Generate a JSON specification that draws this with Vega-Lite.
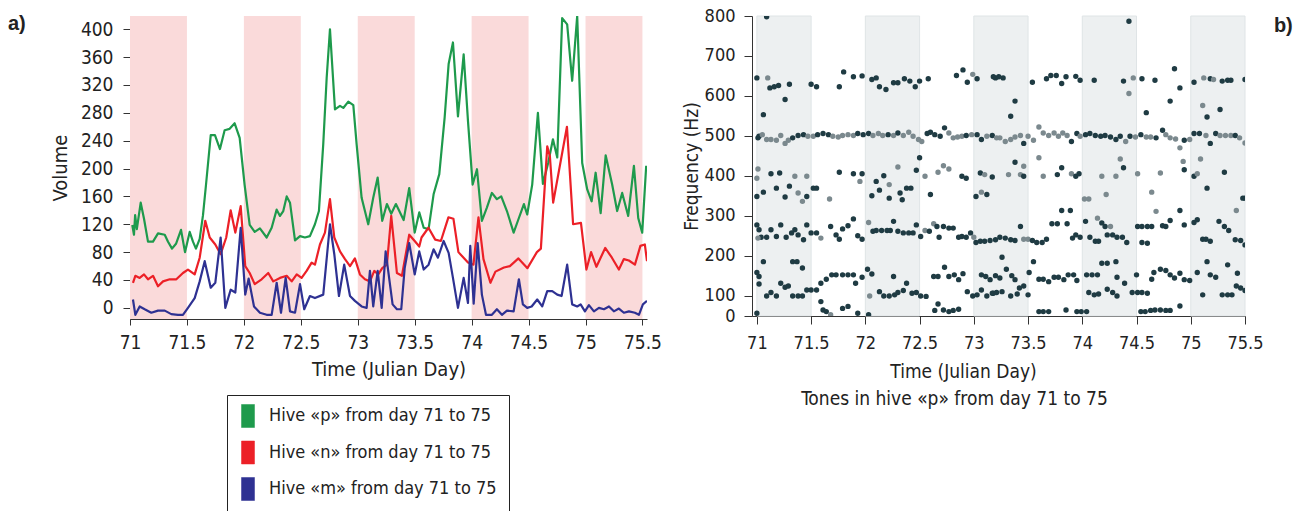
{
"$schema": "https://vega.github.io/schema/vega-lite/v6.json",
"padding": {"left": 8, "top": 7, "right": 5, "bottom": 0},
"background": "white",
"spacing": 105,
"bounds": "flush",
"config": {
  "view": {"stroke": null},
  "font": "Liberation Sans Narrow, DejaVu Sans Condensed, Roboto Condensed, sans-serif",
  "axis": {"grid": false, "domainColor": "#333", "tickColor": "#333", "labelColor": "#222", "titleColor": "#222", "titleFontWeight": "normal", "labelFont": "Liberation Sans Narrow, DejaVu Sans Condensed, sans-serif", "titleFont": "Liberation Sans Narrow, DejaVu Sans Condensed, sans-serif", "labelFlush": false, "domainWidth": 1, "tickWidth": 1}
},
"title": {"text": "b)", "orient": "right", "anchor": "start", "angle": 0, "align": "left", "baseline": "top", "offset": -8, "dy": 9, "fontSize": 20, "fontWeight": "bold", "font": "Liberation Sans, Arial, sans-serif", "color": "#222"},
"resolve": {"scale": {"x": "independent", "y": "independent"}},
"datasets": {
  "bands": [{"start": 71, "end": 71.5}, {"start": 72, "end": 72.5}, {"start": 73, "end": 73.5}, {"start": 74, "end": 74.5}, {"start": 75, "end": 75.5}]
},
"hconcat": [
 {
  "width": 517, "height": 303,
  "title": {"text": "a)", "orient": "top", "anchor": "start", "frame": "group", "dx": -122, "dy": 15, "offset": -3, "baseline": "top", "align": "left", "fontSize": 20, "fontWeight": "bold", "font": "Liberation Sans, Arial, sans-serif", "color": "#222"},
  "layer": [
   {
    "data": {"name": "bands"},
    "mark": {"type": "rect", "fill": "#fadada"},
    "encoding": {
      "x": {"field": "start", "type": "quantitative", "scale": {"domain": [71, 75.54]}, "axis": {"values": [71, 71.5, 72, 72.5, 73, 73.5, 74, 74.5, 75, 75.5], "format": "~g", "title": "Time (Julian Day)", "labelFontSize": 19, "titleFontSize": 20, "tickSize": 6, "labelPadding": 8, "titlePadding": 7}},
      "x2": {"field": "end"}
    }
   },
   {
    "data": {"values": [
{"day":71.02,"vol":119,"hive":"Hive «p» from day 71 to 75"},{"day":71.035,"vol":105,"hive":"Hive «p» from day 71 to 75"},{"day":71.045,"vol":133,"hive":"Hive «p» from day 71 to 75"},{"day":71.06,"vol":113,"hive":"Hive «p» from day 71 to 75"},{"day":71.094,"vol":151,"hive":"Hive «p» from day 71 to 75"},{"day":71.123,"vol":128,"hive":"Hive «p» from day 71 to 75"},{"day":71.158,"vol":95,"hive":"Hive «p» from day 71 to 75"},{"day":71.202,"vol":95,"hive":"Hive «p» from day 71 to 75"},{"day":71.246,"vol":107,"hive":"Hive «p» from day 71 to 75"},{"day":71.305,"vol":105,"hive":"Hive «p» from day 71 to 75"},{"day":71.334,"vol":95,"hive":"Hive «p» from day 71 to 75"},{"day":71.369,"vol":85,"hive":"Hive «p» from day 71 to 75"},{"day":71.404,"vol":92,"hive":"Hive «p» from day 71 to 75"},{"day":71.448,"vol":112,"hive":"Hive «p» from day 71 to 75"},{"day":71.483,"vol":80,"hive":"Hive «p» from day 71 to 75"},{"day":71.524,"vol":109,"hive":"Hive «p» from day 71 to 75"},{"day":71.553,"vol":95,"hive":"Hive «p» from day 71 to 75"},{"day":71.579,"vol":85,"hive":"Hive «p» from day 71 to 75"},{"day":71.612,"vol":99,"hive":"Hive «p» from day 71 to 75"},{"day":71.641,"vol":133,"hive":"Hive «p» from day 71 to 75"},{"day":71.667,"vol":176,"hive":"Hive «p» from day 71 to 75"},{"day":71.709,"vol":248,"hive":"Hive «p» from day 71 to 75"},{"day":71.746,"vol":248,"hive":"Hive «p» from day 71 to 75"},{"day":71.79,"vol":228,"hive":"Hive «p» from day 71 to 75"},{"day":71.831,"vol":255,"hive":"Hive «p» from day 71 to 75"},{"day":71.875,"vol":257,"hive":"Hive «p» from day 71 to 75"},{"day":71.919,"vol":265,"hive":"Hive «p» from day 71 to 75"},{"day":71.963,"vol":244,"hive":"Hive «p» from day 71 to 75"},{"day":72.007,"vol":176,"hive":"Hive «p» from day 71 to 75"},{"day":72.051,"vol":119,"hive":"Hive «p» from day 71 to 75"},{"day":72.095,"vol":109,"hive":"Hive «p» from day 71 to 75"},{"day":72.141,"vol":114,"hive":"Hive «p» from day 71 to 75"},{"day":72.2,"vol":101,"hive":"Hive «p» from day 71 to 75"},{"day":72.244,"vol":115,"hive":"Hive «p» from day 71 to 75"},{"day":72.288,"vol":141,"hive":"Hive «p» from day 71 to 75"},{"day":72.317,"vol":132,"hive":"Hive «p» from day 71 to 75"},{"day":72.346,"vol":139,"hive":"Hive «p» from day 71 to 75"},{"day":72.376,"vol":160,"hive":"Hive «p» from day 71 to 75"},{"day":72.405,"vol":151,"hive":"Hive «p» from day 71 to 75"},{"day":72.449,"vol":97,"hive":"Hive «p» from day 71 to 75"},{"day":72.493,"vol":103,"hive":"Hive «p» from day 71 to 75"},{"day":72.536,"vol":101,"hive":"Hive «p» from day 71 to 75"},{"day":72.58,"vol":103,"hive":"Hive «p» from day 71 to 75"},{"day":72.624,"vol":120,"hive":"Hive «p» from day 71 to 75"},{"day":72.659,"vol":139,"hive":"Hive «p» from day 71 to 75"},{"day":72.697,"vol":235,"hive":"Hive «p» from day 71 to 75"},{"day":72.727,"vol":330,"hive":"Hive «p» from day 71 to 75"},{"day":72.756,"vol":400,"hive":"Hive «p» from day 71 to 75"},{"day":72.8,"vol":285,"hive":"Hive «p» from day 71 to 75"},{"day":72.844,"vol":290,"hive":"Hive «p» from day 71 to 75"},{"day":72.873,"vol":287,"hive":"Hive «p» from day 71 to 75"},{"day":72.917,"vol":296,"hive":"Hive «p» from day 71 to 75"},{"day":72.961,"vol":291,"hive":"Hive «p» from day 71 to 75"},{"day":72.99,"vol":235,"hive":"Hive «p» from day 71 to 75"},{"day":73.034,"vol":158,"hive":"Hive «p» from day 71 to 75"},{"day":73.092,"vol":120,"hive":"Hive «p» from day 71 to 75"},{"day":73.136,"vol":158,"hive":"Hive «p» from day 71 to 75"},{"day":73.175,"vol":187,"hive":"Hive «p» from day 71 to 75"},{"day":73.215,"vol":125,"hive":"Hive «p» from day 71 to 75"},{"day":73.256,"vol":149,"hive":"Hive «p» from day 71 to 75"},{"day":73.294,"vol":135,"hive":"Hive «p» from day 71 to 75"},{"day":73.335,"vol":149,"hive":"Hive «p» from day 71 to 75"},{"day":73.403,"vol":126,"hive":"Hive «p» from day 71 to 75"},{"day":73.452,"vol":172,"hive":"Hive «p» from day 71 to 75"},{"day":73.5,"vol":108,"hive":"Hive «p» from day 71 to 75"},{"day":73.54,"vol":137,"hive":"Hive «p» from day 71 to 75"},{"day":73.579,"vol":115,"hive":"Hive «p» from day 71 to 75"},{"day":73.622,"vol":113,"hive":"Hive «p» from day 71 to 75"},{"day":73.666,"vol":163,"hive":"Hive «p» from day 71 to 75"},{"day":73.716,"vol":192,"hive":"Hive «p» from day 71 to 75"},{"day":73.763,"vol":273,"hive":"Hive «p» from day 71 to 75"},{"day":73.798,"vol":350,"hive":"Hive «p» from day 71 to 75"},{"day":73.836,"vol":381,"hive":"Hive «p» from day 71 to 75"},{"day":73.88,"vol":275,"hive":"Hive «p» from day 71 to 75"},{"day":73.93,"vol":364,"hive":"Hive «p» from day 71 to 75"},{"day":73.968,"vol":268,"hive":"Hive «p» from day 71 to 75"},{"day":74.009,"vol":177,"hive":"Hive «p» from day 71 to 75"},{"day":74.047,"vol":199,"hive":"Hive «p» from day 71 to 75"},{"day":74.09,"vol":125,"hive":"Hive «p» from day 71 to 75"},{"day":74.134,"vol":144,"hive":"Hive «p» from day 71 to 75"},{"day":74.178,"vol":165,"hive":"Hive «p» from day 71 to 75"},{"day":74.222,"vol":156,"hive":"Hive «p» from day 71 to 75"},{"day":74.26,"vol":160,"hive":"Hive «p» from day 71 to 75"},{"day":74.31,"vol":139,"hive":"Hive «p» from day 71 to 75"},{"day":74.369,"vol":108,"hive":"Hive «p» from day 71 to 75"},{"day":74.415,"vol":129,"hive":"Hive «p» from day 71 to 75"},{"day":74.459,"vol":149,"hive":"Hive «p» from day 71 to 75"},{"day":74.488,"vol":134,"hive":"Hive «p» from day 71 to 75"},{"day":74.532,"vol":177,"hive":"Hive «p» from day 71 to 75"},{"day":74.582,"vol":280,"hive":"Hive «p» from day 71 to 75"},{"day":74.626,"vol":178,"hive":"Hive «p» from day 71 to 75"},{"day":74.672,"vol":208,"hive":"Hive «p» from day 71 to 75"},{"day":74.714,"vol":242,"hive":"Hive «p» from day 71 to 75"},{"day":74.752,"vol":216,"hive":"Hive «p» from day 71 to 75"},{"day":74.795,"vol":416,"hive":"Hive «p» from day 71 to 75"},{"day":74.839,"vol":407,"hive":"Hive «p» from day 71 to 75"},{"day":74.883,"vol":326,"hive":"Hive «p» from day 71 to 75"},{"day":74.927,"vol":419,"hive":"Hive «p» from day 71 to 75"},{"day":74.971,"vol":208,"hive":"Hive «p» from day 71 to 75"},{"day":75.015,"vol":170,"hive":"Hive «p» from day 71 to 75"},{"day":75.054,"vol":153,"hive":"Hive «p» from day 71 to 75"},{"day":75.089,"vol":194,"hive":"Hive «p» from day 71 to 75"},{"day":75.133,"vol":136,"hive":"Hive «p» from day 71 to 75"},{"day":75.177,"vol":219,"hive":"Hive «p» from day 71 to 75"},{"day":75.234,"vol":177,"hive":"Hive «p» from day 71 to 75"},{"day":75.278,"vol":139,"hive":"Hive «p» from day 71 to 75"},{"day":75.322,"vol":165,"hive":"Hive «p» from day 71 to 75"},{"day":75.375,"vol":132,"hive":"Hive «p» from day 71 to 75"},{"day":75.425,"vol":204,"hive":"Hive «p» from day 71 to 75"},{"day":75.463,"vol":129,"hive":"Hive «p» from day 71 to 75"},{"day":75.498,"vol":108,"hive":"Hive «p» from day 71 to 75"},{"day":75.533,"vol":204,"hive":"Hive «p» from day 71 to 75"},
{"day":71.026,"vol":36,"hive":"Hive «n» from day 71 to 75"},{"day":71.047,"vol":46,"hive":"Hive «n» from day 71 to 75"},{"day":71.085,"vol":43,"hive":"Hive «n» from day 71 to 75"},{"day":71.123,"vol":48,"hive":"Hive «n» from day 71 to 75"},{"day":71.158,"vol":41,"hive":"Hive «n» from day 71 to 75"},{"day":71.202,"vol":46,"hive":"Hive «n» from day 71 to 75"},{"day":71.246,"vol":31,"hive":"Hive «n» from day 71 to 75"},{"day":71.29,"vol":38,"hive":"Hive «n» from day 71 to 75"},{"day":71.349,"vol":41,"hive":"Hive «n» from day 71 to 75"},{"day":71.407,"vol":41,"hive":"Hive «n» from day 71 to 75"},{"day":71.465,"vol":50,"hive":"Hive «n» from day 71 to 75"},{"day":71.509,"vol":55,"hive":"Hive «n» from day 71 to 75"},{"day":71.568,"vol":48,"hive":"Hive «n» from day 71 to 75"},{"day":71.612,"vol":72,"hive":"Hive «n» from day 71 to 75"},{"day":71.661,"vol":125,"hive":"Hive «n» from day 71 to 75"},{"day":71.7,"vol":101,"hive":"Hive «n» from day 71 to 75"},{"day":71.749,"vol":91,"hive":"Hive «n» from day 71 to 75"},{"day":71.796,"vol":77,"hive":"Hive «n» from day 71 to 75"},{"day":71.845,"vol":101,"hive":"Hive «n» from day 71 to 75"},{"day":71.884,"vol":140,"hive":"Hive «n» from day 71 to 75"},{"day":71.925,"vol":108,"hive":"Hive «n» from day 71 to 75"},{"day":71.972,"vol":146,"hive":"Hive «n» from day 71 to 75"},{"day":72.012,"vol":60,"hive":"Hive «n» from day 71 to 75"},{"day":72.051,"vol":50,"hive":"Hive «n» from day 71 to 75"},{"day":72.095,"vol":34,"hive":"Hive «n» from day 71 to 75"},{"day":72.156,"vol":41,"hive":"Hive «n» from day 71 to 75"},{"day":72.214,"vol":50,"hive":"Hive «n» from day 71 to 75"},{"day":72.258,"vol":38,"hive":"Hive «n» from day 71 to 75"},{"day":72.317,"vol":43,"hive":"Hive «n» from day 71 to 75"},{"day":72.376,"vol":46,"hive":"Hive «n» from day 71 to 75"},{"day":72.42,"vol":38,"hive":"Hive «n» from day 71 to 75"},{"day":72.464,"vol":48,"hive":"Hive «n» from day 71 to 75"},{"day":72.507,"vol":43,"hive":"Hive «n» from day 71 to 75"},{"day":72.551,"vol":53,"hive":"Hive «n» from day 71 to 75"},{"day":72.595,"vol":65,"hive":"Hive «n» from day 71 to 75"},{"day":72.624,"vol":62,"hive":"Hive «n» from day 71 to 75"},{"day":72.668,"vol":91,"hive":"Hive «n» from day 71 to 75"},{"day":72.712,"vol":108,"hive":"Hive «n» from day 71 to 75"},{"day":72.756,"vol":156,"hive":"Hive «n» from day 71 to 75"},{"day":72.794,"vol":101,"hive":"Hive «n» from day 71 to 75"},{"day":72.844,"vol":81,"hive":"Hive «n» from day 71 to 75"},{"day":72.888,"vol":70,"hive":"Hive «n» from day 71 to 75"},{"day":72.932,"vol":60,"hive":"Hive «n» from day 71 to 75"},{"day":72.975,"vol":71,"hive":"Hive «n» from day 71 to 75"},{"day":73.019,"vol":48,"hive":"Hive «n» from day 71 to 75"},{"day":73.063,"vol":41,"hive":"Hive «n» from day 71 to 75"},{"day":73.107,"vol":38,"hive":"Hive «n» from day 71 to 75"},{"day":73.145,"vol":53,"hive":"Hive «n» from day 71 to 75"},{"day":73.18,"vol":48,"hive":"Hive «n» from day 71 to 75"},{"day":73.215,"vol":57,"hive":"Hive «n» from day 71 to 75"},{"day":73.256,"vol":62,"hive":"Hive «n» from day 71 to 75"},{"day":73.294,"vol":132,"hive":"Hive «n» from day 71 to 75"},{"day":73.344,"vol":50,"hive":"Hive «n» from day 71 to 75"},{"day":73.388,"vol":46,"hive":"Hive «n» from day 71 to 75"},{"day":73.452,"vol":105,"hive":"Hive «n» from day 71 to 75"},{"day":73.5,"vol":96,"hive":"Hive «n» from day 71 to 75"},{"day":73.54,"vol":88,"hive":"Hive «n» from day 71 to 75"},{"day":73.56,"vol":101,"hive":"Hive «n» from day 71 to 75"},{"day":73.621,"vol":115,"hive":"Hive «n» from day 71 to 75"},{"day":73.68,"vol":98,"hive":"Hive «n» from day 71 to 75"},{"day":73.73,"vol":96,"hive":"Hive «n» from day 71 to 75"},{"day":73.796,"vol":130,"hive":"Hive «n» from day 71 to 75"},{"day":73.84,"vol":128,"hive":"Hive «n» from day 71 to 75"},{"day":73.884,"vol":80,"hive":"Hive «n» from day 71 to 75"},{"day":73.968,"vol":65,"hive":"Hive «n» from day 71 to 75"},{"day":74.016,"vol":62,"hive":"Hive «n» from day 71 to 75"},{"day":74.06,"vol":130,"hive":"Hive «n» from day 71 to 75"},{"day":74.104,"vol":70,"hive":"Hive «n» from day 71 to 75"},{"day":74.165,"vol":36,"hive":"Hive «n» from day 71 to 75"},{"day":74.209,"vol":52,"hive":"Hive «n» from day 71 to 75"},{"day":74.284,"vol":58,"hive":"Hive «n» from day 71 to 75"},{"day":74.336,"vol":60,"hive":"Hive «n» from day 71 to 75"},{"day":74.411,"vol":71,"hive":"Hive «n» from day 71 to 75"},{"day":74.49,"vol":57,"hive":"Hive «n» from day 71 to 75"},{"day":74.573,"vol":80,"hive":"Hive «n» from day 71 to 75"},{"day":74.608,"vol":85,"hive":"Hive «n» from day 71 to 75"},{"day":74.664,"vol":232,"hive":"Hive «n» from day 71 to 75"},{"day":74.687,"vol":218,"hive":"Hive «n» from day 71 to 75"},{"day":74.716,"vol":151,"hive":"Hive «n» from day 71 to 75"},{"day":74.837,"vol":260,"hive":"Hive «n» from day 71 to 75"},{"day":74.891,"vol":120,"hive":"Hive «n» from day 71 to 75"},{"day":74.96,"vol":122,"hive":"Hive «n» from day 71 to 75"},{"day":75.008,"vol":55,"hive":"Hive «n» from day 71 to 75"},{"day":75.049,"vol":80,"hive":"Hive «n» from day 71 to 75"},{"day":75.096,"vol":59,"hive":"Hive «n» from day 71 to 75"},{"day":75.173,"vol":86,"hive":"Hive «n» from day 71 to 75"},{"day":75.232,"vol":72,"hive":"Hive «n» from day 71 to 75"},{"day":75.293,"vol":55,"hive":"Hive «n» from day 71 to 75"},{"day":75.337,"vol":70,"hive":"Hive «n» from day 71 to 75"},{"day":75.381,"vol":68,"hive":"Hive «n» from day 71 to 75"},{"day":75.434,"vol":62,"hive":"Hive «n» from day 71 to 75"},{"day":75.482,"vol":89,"hive":"Hive «n» from day 71 to 75"},{"day":75.521,"vol":91,"hive":"Hive «n» from day 71 to 75"},{"day":75.54,"vol":67,"hive":"Hive «n» from day 71 to 75"},
{"day":71.026,"vol":12,"hive":"Hive «m» from day 71 to 75"},{"day":71.047,"vol":-10,"hive":"Hive «m» from day 71 to 75"},{"day":71.085,"vol":2,"hive":"Hive «m» from day 71 to 75"},{"day":71.129,"vol":-2,"hive":"Hive «m» from day 71 to 75"},{"day":71.187,"vol":-7,"hive":"Hive «m» from day 71 to 75"},{"day":71.246,"vol":-4,"hive":"Hive «m» from day 71 to 75"},{"day":71.305,"vol":-4,"hive":"Hive «m» from day 71 to 75"},{"day":71.363,"vol":-9,"hive":"Hive «m» from day 71 to 75"},{"day":71.421,"vol":-10,"hive":"Hive «m» from day 71 to 75"},{"day":71.465,"vol":-10,"hive":"Hive «m» from day 71 to 75"},{"day":71.509,"vol":0,"hive":"Hive «m» from day 71 to 75"},{"day":71.568,"vol":14,"hive":"Hive «m» from day 71 to 75"},{"day":71.612,"vol":38,"hive":"Hive «m» from day 71 to 75"},{"day":71.656,"vol":67,"hive":"Hive «m» from day 71 to 75"},{"day":71.709,"vol":29,"hive":"Hive «m» from day 71 to 75"},{"day":71.749,"vol":36,"hive":"Hive «m» from day 71 to 75"},{"day":71.796,"vol":101,"hive":"Hive «m» from day 71 to 75"},{"day":71.837,"vol":0,"hive":"Hive «m» from day 71 to 75"},{"day":71.884,"vol":26,"hive":"Hive «m» from day 71 to 75"},{"day":71.925,"vol":22,"hive":"Hive «m» from day 71 to 75"},{"day":71.972,"vol":115,"hive":"Hive «m» from day 71 to 75"},{"day":72.012,"vol":19,"hive":"Hive «m» from day 71 to 75"},{"day":72.042,"vol":42,"hive":"Hive «m» from day 71 to 75"},{"day":72.089,"vol":2,"hive":"Hive «m» from day 71 to 75"},{"day":72.141,"vol":-7,"hive":"Hive «m» from day 71 to 75"},{"day":72.2,"vol":-10,"hive":"Hive «m» from day 71 to 75"},{"day":72.244,"vol":-10,"hive":"Hive «m» from day 71 to 75"},{"day":72.288,"vol":36,"hive":"Hive «m» from day 71 to 75"},{"day":72.326,"vol":-7,"hive":"Hive «m» from day 71 to 75"},{"day":72.367,"vol":43,"hive":"Hive «m» from day 71 to 75"},{"day":72.405,"vol":-5,"hive":"Hive «m» from day 71 to 75"},{"day":72.449,"vol":-7,"hive":"Hive «m» from day 71 to 75"},{"day":72.493,"vol":34,"hive":"Hive «m» from day 71 to 75"},{"day":72.53,"vol":-2,"hive":"Hive «m» from day 71 to 75"},{"day":72.58,"vol":17,"hive":"Hive «m» from day 71 to 75"},{"day":72.624,"vol":14,"hive":"Hive «m» from day 71 to 75"},{"day":72.697,"vol":19,"hive":"Hive «m» from day 71 to 75"},{"day":72.756,"vol":120,"hive":"Hive «m» from day 71 to 75"},{"day":72.794,"vol":77,"hive":"Hive «m» from day 71 to 75"},{"day":72.835,"vol":17,"hive":"Hive «m» from day 71 to 75"},{"day":72.881,"vol":62,"hive":"Hive «m» from day 71 to 75"},{"day":72.932,"vol":17,"hive":"Hive «m» from day 71 to 75"},{"day":72.975,"vol":10,"hive":"Hive «m» from day 71 to 75"},{"day":73.034,"vol":2,"hive":"Hive «m» from day 71 to 75"},{"day":73.078,"vol":0,"hive":"Hive «m» from day 71 to 75"},{"day":73.107,"vol":53,"hive":"Hive «m» from day 71 to 75"},{"day":73.136,"vol":2,"hive":"Hive «m» from day 71 to 75"},{"day":73.175,"vol":53,"hive":"Hive «m» from day 71 to 75"},{"day":73.21,"vol":0,"hive":"Hive «m» from day 71 to 75"},{"day":73.245,"vol":81,"hive":"Hive «m» from day 71 to 75"},{"day":73.306,"vol":5,"hive":"Hive «m» from day 71 to 75"},{"day":73.344,"vol":-2,"hive":"Hive «m» from day 71 to 75"},{"day":73.382,"vol":-2,"hive":"Hive «m» from day 71 to 75"},{"day":73.412,"vol":57,"hive":"Hive «m» from day 71 to 75"},{"day":73.452,"vol":93,"hive":"Hive «m» from day 71 to 75"},{"day":73.5,"vol":48,"hive":"Hive «m» from day 71 to 75"},{"day":73.54,"vol":81,"hive":"Hive «m» from day 71 to 75"},{"day":73.579,"vol":55,"hive":"Hive «m» from day 71 to 75"},{"day":73.622,"vol":62,"hive":"Hive «m» from day 71 to 75"},{"day":73.666,"vol":84,"hive":"Hive «m» from day 71 to 75"},{"day":73.704,"vol":72,"hive":"Hive «m» from day 71 to 75"},{"day":73.754,"vol":96,"hive":"Hive «m» from day 71 to 75"},{"day":73.798,"vol":79,"hive":"Hive «m» from day 71 to 75"},{"day":73.836,"vol":43,"hive":"Hive «m» from day 71 to 75"},{"day":73.88,"vol":0,"hive":"Hive «m» from day 71 to 75"},{"day":73.93,"vol":43,"hive":"Hive «m» from day 71 to 75"},{"day":73.968,"vol":7,"hive":"Hive «m» from day 71 to 75"},{"day":73.988,"vol":89,"hive":"Hive «m» from day 71 to 75"},{"day":74.018,"vol":6,"hive":"Hive «m» from day 71 to 75"},{"day":74.053,"vol":93,"hive":"Hive «m» from day 71 to 75"},{"day":74.09,"vol":19,"hive":"Hive «m» from day 71 to 75"},{"day":74.126,"vol":-10,"hive":"Hive «m» from day 71 to 75"},{"day":74.178,"vol":-10,"hive":"Hive «m» from day 71 to 75"},{"day":74.222,"vol":-2,"hive":"Hive «m» from day 71 to 75"},{"day":74.266,"vol":-10,"hive":"Hive «m» from day 71 to 75"},{"day":74.31,"vol":-4,"hive":"Hive «m» from day 71 to 75"},{"day":74.369,"vol":-5,"hive":"Hive «m» from day 71 to 75"},{"day":74.415,"vol":41,"hive":"Hive «m» from day 71 to 75"},{"day":74.45,"vol":5,"hive":"Hive «m» from day 71 to 75"},{"day":74.488,"vol":0,"hive":"Hive «m» from day 71 to 75"},{"day":74.527,"vol":2,"hive":"Hive «m» from day 71 to 75"},{"day":74.576,"vol":12,"hive":"Hive «m» from day 71 to 75"},{"day":74.62,"vol":2,"hive":"Hive «m» from day 71 to 75"},{"day":74.664,"vol":24,"hive":"Hive «m» from day 71 to 75"},{"day":74.708,"vol":24,"hive":"Hive «m» from day 71 to 75"},{"day":74.752,"vol":19,"hive":"Hive «m» from day 71 to 75"},{"day":74.79,"vol":17,"hive":"Hive «m» from day 71 to 75"},{"day":74.839,"vol":62,"hive":"Hive «m» from day 71 to 75"},{"day":74.883,"vol":5,"hive":"Hive «m» from day 71 to 75"},{"day":74.927,"vol":2,"hive":"Hive «m» from day 71 to 75"},{"day":74.957,"vol":5,"hive":"Hive «m» from day 71 to 75"},{"day":74.995,"vol":-5,"hive":"Hive «m» from day 71 to 75"},{"day":75.03,"vol":4,"hive":"Hive «m» from day 71 to 75"},{"day":75.074,"vol":-5,"hive":"Hive «m» from day 71 to 75"},{"day":75.118,"vol":0,"hive":"Hive «m» from day 71 to 75"},{"day":75.162,"vol":-2,"hive":"Hive «m» from day 71 to 75"},{"day":75.206,"vol":2,"hive":"Hive «m» from day 71 to 75"},{"day":75.249,"vol":-5,"hive":"Hive «m» from day 71 to 75"},{"day":75.293,"vol":-1,"hive":"Hive «m» from day 71 to 75"},{"day":75.337,"vol":-7,"hive":"Hive «m» from day 71 to 75"},{"day":75.381,"vol":-5,"hive":"Hive «m» from day 71 to 75"},{"day":75.434,"vol":-7,"hive":"Hive «m» from day 71 to 75"},{"day":75.469,"vol":-10,"hive":"Hive «m» from day 71 to 75"},{"day":75.504,"vol":5,"hive":"Hive «m» from day 71 to 75"},{"day":75.54,"vol":10,"hive":"Hive «m» from day 71 to 75"}
    ]},
    "mark": {"type": "line", "strokeWidth": 2.2, "clip": true, "strokeJoin": "round"},
    "encoding": {
      "x": {"field": "day", "type": "quantitative", "scale": {"domain": [71, 75.54]}, "axis": {"values": [71, 71.5, 72, 72.5, 73, 73.5, 74, 74.5, 75, 75.5], "format": "~g", "title": "Time (Julian Day)", "labelFontSize": 19, "titleFontSize": 20, "tickSize": 6, "labelPadding": 8, "titlePadding": 7}},
      "y": {"field": "vol", "type": "quantitative", "scale": {"domain": [-16, 419], "nice": false, "zero": false}, "axis": {"values": [0, 40, 80, 120, 160, 200, 240, 280, 320, 360, 400], "title": "Volume", "labelFontSize": 19, "titleFontSize": 20, "tickSize": 7, "labelPadding": 10, "titlePadding": 10}},
      "color": {"field": "hive", "type": "nominal", "sort": null,
        "scale": {"domain": ["Hive «p» from day 71 to 75", "Hive «n» from day 71 to 75", "Hive «m» from day 71 to 75"], "range": ["#1e9a4c", "#ec2027", "#2e3192"]},
        "legend": {"title": null, "orient": "none", "legendX": 97, "legendY": 379, "padding": 12, "strokeColor": "#222", "fillColor": "#ffffff", "symbolType": "M-1,-1.77H1V1.77H-1Z", "symbolSize": 169, "rowPadding": 10.5, "labelOffset": 12, "labelFontSize": 18, "labelColor": "#222", "labelLimit": 400, "labelExpr": "datum.label + '\u00a0\u00a0\u00a0\u00a0\u00a0\u00a0\u00a0'",
          "encode": {"symbols": {"update": {"fill": {"scale": "color", "field": "value"}, "fillOpacity": {"value": 1}, "stroke": {"scale": "color", "field": "value"}, "strokeWidth": {"value": 0.5}}}}}
      }
    }
   }
  ]
 },
 {
  "width": 493, "height": 300,
  "title": {"text": "Tones in hive «p» from day 71 to 75", "orient": "bottom", "anchor": "middle", "dx": -44, "offset": 9, "fontSize": 19, "fontWeight": "normal", "color": "#222", "font": "Liberation Sans Narrow, DejaVu Sans Condensed, sans-serif"},
  "layer": [
   {
    "data": {"name": "bands"},
    "mark": {"type": "rect", "fill": "#edf0f1", "stroke": "#dfe4e6", "strokeWidth": 1},
    "encoding": {
      "x": {"field": "start", "type": "quantitative", "scale": {"domain": [70.955, 75.5]}, "axis": {"values": [71, 71.5, 72, 72.5, 73, 73.5, 74, 74.5, 75, 75.5], "format": "~g", "title": "Time (Julian Day)", "titleX": 211, "labelFontSize": 18, "titleFontSize": 19, "tickSize": 8, "labelPadding": 10, "titlePadding": 10}},
      "x2": {"field": "end"}
    }
   },
   {
    "data": {"values": [
{"day":71.09,"hz":798,"c":"d"},{"day":71.0,"hz":645,"c":"d"},{"day":71.1,"hz":645,"c":"g"},{"day":71.12,"hz":620,"c":"d"},{"day":71.16,"hz":623,"c":"d"},{"day":71.2,"hz":626,"c":"d"},{"day":71.3,"hz":629,"c":"d"},{"day":71.26,"hz":591,"c":"d"},{"day":71.06,"hz":553,"c":"d"},{"day":71.5,"hz":629,"c":"d"},{"day":71.55,"hz":623,"c":"d"},{"day":71.76,"hz":623,"c":"d"},{"day":71.8,"hz":660,"c":"d"},{"day":71.89,"hz":648,"c":"d"},{"day":71.97,"hz":650,"c":"d"},{"day":72.06,"hz":641,"c":"d"},{"day":72.1,"hz":645,"c":"d"},{"day":72.13,"hz":623,"c":"d"},{"day":72.19,"hz":616,"c":"d"},{"day":72.26,"hz":633,"c":"d"},{"day":72.3,"hz":633,"c":"d"},{"day":72.36,"hz":643,"c":"d"},{"day":72.41,"hz":637,"c":"d"},{"day":72.46,"hz":623,"c":"d"},{"day":72.5,"hz":637,"c":"d"},{"day":72.58,"hz":643,"c":"d"},{"day":72.84,"hz":651,"c":"d"},{"day":72.9,"hz":665,"c":"d"},{"day":72.94,"hz":634,"c":"d"},{"day":72.99,"hz":654,"c":"g"},{"day":73.03,"hz":643,"c":"d"},{"day":73.2,"hz":645,"c":"d"},
{"day":71.01,"hz":495,"c":"d"},{"day":71.02,"hz":499,"c":"d"},{"day":71.05,"hz":503,"c":"g"},{"day":71.09,"hz":491,"c":"g"},{"day":71.13,"hz":491,"c":"g"},{"day":71.18,"hz":489,"c":"g"},{"day":71.22,"hz":501,"c":"g"},{"day":71.26,"hz":481,"c":"g"},{"day":71.29,"hz":489,"c":"g"},{"day":71.33,"hz":495,"c":"d"},{"day":71.38,"hz":501,"c":"d"},{"day":71.43,"hz":503,"c":"d"},{"day":71.47,"hz":499,"c":"g"},{"day":71.52,"hz":499,"c":"g"},{"day":71.56,"hz":503,"c":"d"},{"day":71.61,"hz":506,"c":"d"},{"day":71.66,"hz":503,"c":"d"},{"day":71.7,"hz":499,"c":"g"},{"day":71.75,"hz":497,"c":"g"},{"day":71.79,"hz":501,"c":"g"},{"day":71.84,"hz":503,"c":"g"},{"day":71.89,"hz":501,"c":"g"},{"day":71.93,"hz":506,"c":"d"},{"day":71.98,"hz":503,"c":"d"},{"day":72.03,"hz":506,"c":"d"},{"day":72.07,"hz":501,"c":"g"},{"day":72.12,"hz":506,"c":"g"},{"day":72.16,"hz":501,"c":"g"},{"day":72.21,"hz":503,"c":"d"},{"day":72.26,"hz":501,"c":"g"},{"day":72.3,"hz":507,"c":"d"},{"day":72.35,"hz":501,"c":"g"},{"day":72.4,"hz":509,"c":"g"},{"day":72.44,"hz":499,"c":"g"},{"day":72.49,"hz":491,"c":"g"},{"day":72.52,"hz":486,"c":"g"},{"day":72.57,"hz":506,"c":"d"},{"day":72.6,"hz":509,"c":"d"},{"day":72.64,"hz":503,"c":"d"},{"day":72.69,"hz":499,"c":"d"},{"day":72.73,"hz":520,"c":"d"},{"day":72.77,"hz":507,"c":"g"},{"day":72.81,"hz":495,"c":"g"},{"day":72.85,"hz":497,"c":"g"},{"day":72.89,"hz":499,"c":"g"},{"day":72.93,"hz":501,"c":"d"},{"day":72.98,"hz":503,"c":"g"},{"day":73.03,"hz":503,"c":"d"},{"day":73.07,"hz":491,"c":"d"},{"day":73.12,"hz":499,"c":"g"},{"day":73.17,"hz":501,"c":"d"},{"day":73.21,"hz":495,"c":"g"},
{"day":73.24,"hz":495,"c":"g"},{"day":73.29,"hz":486,"c":"g"},{"day":73.34,"hz":491,"c":"g"},{"day":73.38,"hz":497,"c":"g"},{"day":73.43,"hz":501,"c":"g"},{"day":73.46,"hz":481,"c":"d"},{"day":73.5,"hz":499,"c":"g"},{"day":73.55,"hz":489,"c":"g"},{"day":73.6,"hz":522,"c":"g"},{"day":73.64,"hz":507,"c":"g"},{"day":73.69,"hz":501,"c":"g"},{"day":73.74,"hz":507,"c":"g"},{"day":73.78,"hz":499,"c":"g"},{"day":73.82,"hz":507,"c":"g"},{"day":73.86,"hz":501,"c":"g"},{"day":73.9,"hz":486,"c":"d"},{"day":73.95,"hz":506,"c":"d"},{"day":73.98,"hz":499,"c":"g"},{"day":74.03,"hz":503,"c":"d"},{"day":74.07,"hz":506,"c":"d"},{"day":74.12,"hz":501,"c":"d"},{"day":74.17,"hz":499,"c":"d"},{"day":74.21,"hz":501,"c":"d"},{"day":74.26,"hz":497,"c":"d"},{"day":74.31,"hz":491,"c":"d"},{"day":74.35,"hz":499,"c":"d"},{"day":74.4,"hz":486,"c":"g"},{"day":74.44,"hz":499,"c":"d"},{"day":74.49,"hz":497,"c":"g"},{"day":74.54,"hz":503,"c":"d"},{"day":74.59,"hz":497,"c":"g"},{"day":74.63,"hz":497,"c":"g"},{"day":74.68,"hz":495,"c":"d"},{"day":74.74,"hz":514,"c":"d"},{"day":74.77,"hz":503,"c":"g"},{"day":74.81,"hz":495,"c":"g"},{"day":74.86,"hz":492,"c":"g"},{"day":74.9,"hz":470,"c":"g"},{"day":74.94,"hz":489,"c":"d"},{"day":74.99,"hz":491,"c":"g"},{"day":75.03,"hz":506,"c":"d"},{"day":75.08,"hz":506,"c":"d"},{"day":75.14,"hz":501,"c":"g"},{"day":75.18,"hz":481,"c":"d"},{"day":75.23,"hz":506,"c":"d"},{"day":75.27,"hz":501,"c":"g"},{"day":75.32,"hz":501,"c":"g"},{"day":75.37,"hz":501,"c":"g"},{"day":75.41,"hz":501,"c":"d"},{"day":75.45,"hz":495,"c":"g"},{"day":75.5,"hz":482,"c":"g"},
{"day":71.01,"hz":417,"c":"g"},{"day":71.0,"hz":394,"c":"g"},{"day":71.06,"hz":359,"c":"d"},{"day":71.0,"hz":348,"c":"d"},{"day":71.13,"hz":405,"c":"d"},{"day":71.21,"hz":407,"c":"d"},{"day":71.18,"hz":369,"c":"d"},{"day":71.26,"hz":347,"c":"d"},{"day":71.3,"hz":374,"c":"d"},{"day":71.35,"hz":399,"c":"g"},{"day":71.38,"hz":357,"c":"g"},{"day":71.42,"hz":336,"c":"g"},{"day":71.46,"hz":399,"c":"g"},{"day":71.46,"hz":348,"c":"d"},{"day":71.52,"hz":369,"c":"d"},{"day":71.55,"hz":369,"c":"d"},{"day":71.67,"hz":342,"c":"g"},{"day":71.76,"hz":409,"c":"d"},{"day":71.89,"hz":405,"c":"d"},{"day":71.95,"hz":386,"c":"g"},{"day":71.97,"hz":405,"c":"d"},{"day":72.06,"hz":350,"c":"d"},{"day":72.1,"hz":386,"c":"d"},{"day":72.13,"hz":364,"c":"d"},{"day":72.17,"hz":400,"c":"d"},{"day":72.22,"hz":378,"c":"g"},{"day":72.22,"hz":344,"c":"d"},{"day":72.3,"hz":422,"c":"g"},{"day":72.32,"hz":357,"c":"d"},{"day":72.34,"hz":340,"c":"d"},{"day":72.38,"hz":369,"c":"d"},{"day":72.42,"hz":369,"c":"d"},{"day":72.47,"hz":414,"c":"d"},{"day":72.5,"hz":445,"c":"d"},{"day":72.55,"hz":399,"c":"g"},{"day":72.6,"hz":353,"c":"d"},{"day":72.67,"hz":409,"c":"g"},{"day":72.72,"hz":425,"c":"g"},{"day":72.77,"hz":417,"c":"g"},{"day":72.89,"hz":399,"c":"d"},{"day":72.93,"hz":394,"c":"d"},{"day":73.02,"hz":348,"c":"d"},{"day":73.07,"hz":359,"c":"g"},{"day":73.12,"hz":353,"c":"d"},{"day":73.06,"hz":407,"c":"d"},{"day":73.1,"hz":403,"c":"g"},{"day":73.17,"hz":397,"c":"d"},
{"day":73.32,"hz":403,"c":"g"},{"day":73.38,"hz":434,"c":"d"},{"day":73.43,"hz":403,"c":"g"},{"day":73.46,"hz":424,"c":"g"},{"day":73.46,"hz":399,"c":"d"},{"day":73.6,"hz":445,"c":"g"},{"day":73.64,"hz":399,"c":"g"},{"day":73.77,"hz":403,"c":"d"},{"day":73.81,"hz":420,"c":"d"},{"day":73.9,"hz":405,"c":"g"},{"day":73.94,"hz":399,"c":"d"},{"day":73.97,"hz":405,"c":"d"},{"day":74.02,"hz":342,"c":"g"},{"day":74.06,"hz":342,"c":"g"},{"day":74.18,"hz":399,"c":"g"},{"day":74.22,"hz":353,"c":"g"},{"day":74.31,"hz":399,"c":"g"},{"day":74.35,"hz":442,"c":"g"},{"day":74.38,"hz":420,"c":"d"},{"day":74.51,"hz":405,"c":"g"},{"day":74.64,"hz":359,"c":"g"},{"day":74.72,"hz":407,"c":"g"},{"day":74.93,"hz":436,"c":"g"},{"day":74.94,"hz":415,"c":"d"},{"day":75.03,"hz":399,"c":"d"},{"day":75.06,"hz":405,"c":"g"},{"day":75.09,"hz":442,"c":"g"},{"day":75.15,"hz":369,"c":"d"},{"day":75.31,"hz":409,"c":"d"},{"day":75.42,"hz":313,"c":"g"},{"day":75.48,"hz":344,"c":"d"},{"day":75.5,"hz":344,"c":"d"},
{"day":71.0,"hz":277,"c":"d"},{"day":71.02,"hz":265,"c":"d"},{"day":71.04,"hz":246,"c":"d"},{"day":71.01,"hz":244,"c":"g"},{"day":71.09,"hz":246,"c":"d"},{"day":71.13,"hz":265,"c":"d"},{"day":71.18,"hz":248,"c":"d"},{"day":71.22,"hz":277,"c":"d"},{"day":71.27,"hz":246,"c":"d"},{"day":71.32,"hz":257,"c":"d"},{"day":71.35,"hz":265,"c":"d"},{"day":71.38,"hz":252,"c":"d"},{"day":71.43,"hz":240,"c":"d"},{"day":71.46,"hz":277,"c":"d"},{"day":71.5,"hz":257,"c":"d"},{"day":71.55,"hz":257,"c":"d"},{"day":71.59,"hz":244,"c":"g"},{"day":71.68,"hz":273,"c":"d"},{"day":71.73,"hz":252,"c":"d"},{"day":71.76,"hz":241,"c":"d"},{"day":71.79,"hz":267,"c":"d"},{"day":71.84,"hz":275,"c":"d"},{"day":71.89,"hz":292,"c":"d"},{"day":71.93,"hz":250,"c":"d"},{"day":71.97,"hz":241,"c":"d"},{"day":72.03,"hz":283,"c":"g"},{"day":72.07,"hz":261,"c":"d"},{"day":72.1,"hz":263,"c":"d"},{"day":72.15,"hz":263,"c":"d"},{"day":72.2,"hz":263,"c":"d"},{"day":72.23,"hz":263,"c":"d"},{"day":72.26,"hz":286,"c":"d"},{"day":72.3,"hz":261,"c":"d"},{"day":72.35,"hz":257,"c":"d"},{"day":72.4,"hz":257,"c":"d"},{"day":72.44,"hz":257,"c":"d"},{"day":72.47,"hz":277,"c":"d"},{"day":72.51,"hz":248,"c":"d"},{"day":72.55,"hz":263,"c":"g"},{"day":72.59,"hz":261,"c":"d"},{"day":72.63,"hz":280,"c":"g"},{"day":72.66,"hz":273,"c":"d"},{"day":72.68,"hz":246,"c":"d"},{"day":72.72,"hz":273,"c":"d"},{"day":72.77,"hz":269,"c":"d"},{"day":72.81,"hz":269,"c":"d"},{"day":72.86,"hz":246,"c":"d"},{"day":72.89,"hz":248,"c":"d"},{"day":72.93,"hz":246,"c":"d"},{"day":72.97,"hz":257,"c":"d"},{"day":73.0,"hz":246,"c":"g"},{"day":73.02,"hz":233,"c":"d"},{"day":73.06,"hz":236,"c":"d"},{"day":73.1,"hz":236,"c":"d"},{"day":73.15,"hz":238,"c":"d"},{"day":73.2,"hz":240,"c":"d"},
{"day":73.24,"hz":246,"c":"d"},{"day":73.29,"hz":244,"c":"d"},{"day":73.34,"hz":240,"c":"d"},{"day":73.38,"hz":238,"c":"d"},{"day":73.43,"hz":273,"c":"d"},{"day":73.46,"hz":241,"c":"g"},{"day":73.5,"hz":241,"c":"g"},{"day":73.54,"hz":238,"c":"d"},{"day":73.58,"hz":233,"c":"d"},{"day":73.63,"hz":233,"c":"d"},{"day":73.67,"hz":241,"c":"d"},{"day":73.72,"hz":280,"c":"d"},{"day":73.77,"hz":280,"c":"d"},{"day":73.81,"hz":313,"c":"d"},{"day":73.86,"hz":280,"c":"d"},{"day":73.89,"hz":313,"c":"d"},{"day":73.91,"hz":244,"c":"d"},{"day":73.94,"hz":252,"c":"d"},{"day":73.98,"hz":246,"c":"d"},{"day":74.03,"hz":286,"c":"d"},{"day":74.07,"hz":246,"c":"d"},{"day":74.12,"hz":236,"c":"d"},{"day":74.15,"hz":236,"c":"d"},{"day":74.14,"hz":294,"c":"g"},{"day":74.18,"hz":282,"c":"d"},{"day":74.21,"hz":273,"c":"d"},{"day":74.26,"hz":273,"c":"g"},{"day":74.23,"hz":252,"c":"d"},{"day":74.28,"hz":252,"c":"d"},{"day":74.32,"hz":246,"c":"d"},{"day":74.37,"hz":246,"c":"d"},{"day":74.41,"hz":233,"c":"d"},{"day":74.51,"hz":273,"c":"d"},{"day":74.55,"hz":273,"c":"d"},{"day":74.6,"hz":273,"c":"d"},{"day":74.64,"hz":273,"c":"d"},{"day":74.55,"hz":233,"c":"d"},{"day":74.6,"hz":231,"c":"d"},{"day":74.68,"hz":311,"c":"g"},{"day":74.74,"hz":275,"c":"d"},{"day":74.77,"hz":273,"c":"d"},{"day":74.81,"hz":288,"c":"d"},{"day":74.9,"hz":313,"c":"d"},{"day":74.94,"hz":277,"c":"d"},{"day":75.03,"hz":283,"c":"d"},{"day":75.06,"hz":290,"c":"d"},{"day":75.11,"hz":241,"c":"d"},{"day":75.14,"hz":241,"c":"d"},{"day":75.18,"hz":236,"c":"d"},{"day":75.26,"hz":286,"c":"d"},{"day":75.31,"hz":273,"c":"d"},{"day":75.35,"hz":263,"c":"d"},{"day":75.41,"hz":240,"c":"d"},{"day":75.46,"hz":238,"c":"d"},{"day":75.5,"hz":227,"c":"d"},
{"day":71.0,"hz":158,"c":"d"},{"day":71.02,"hz":148,"c":"d"},{"day":71.02,"hz":129,"c":"d"},{"day":71.06,"hz":185,"c":"d"},{"day":71.09,"hz":99,"c":"d"},{"day":71.13,"hz":108,"c":"d"},{"day":71.18,"hz":99,"c":"d"},{"day":71.22,"hz":131,"c":"d"},{"day":71.26,"hz":121,"c":"d"},{"day":71.29,"hz":124,"c":"d"},{"day":71.33,"hz":185,"c":"d"},{"day":71.37,"hz":185,"c":"d"},{"day":71.42,"hz":169,"c":"d"},{"day":71.33,"hz":99,"c":"d"},{"day":71.38,"hz":99,"c":"d"},{"day":71.42,"hz":99,"c":"d"},{"day":71.46,"hz":114,"c":"d"},{"day":71.5,"hz":114,"c":"d"},{"day":71.55,"hz":114,"c":"d"},{"day":71.59,"hz":85,"c":"d"},{"day":71.59,"hz":131,"c":"d"},{"day":71.64,"hz":141,"c":"d"},{"day":71.69,"hz":152,"c":"d"},{"day":71.73,"hz":152,"c":"d"},{"day":71.79,"hz":152,"c":"d"},{"day":71.84,"hz":152,"c":"d"},{"day":71.89,"hz":152,"c":"d"},{"day":71.91,"hz":131,"c":"d"},{"day":71.97,"hz":146,"c":"d"},{"day":72.02,"hz":166,"c":"d"},{"day":72.06,"hz":154,"c":"d"},{"day":72.04,"hz":99,"c":"g"},{"day":72.13,"hz":110,"c":"d"},{"day":72.17,"hz":99,"c":"d"},{"day":72.22,"hz":99,"c":"d"},{"day":72.27,"hz":102,"c":"d"},{"day":72.3,"hz":108,"c":"d"},{"day":72.35,"hz":113,"c":"d"},{"day":72.26,"hz":148,"c":"d"},{"day":72.38,"hz":131,"c":"d"},{"day":72.43,"hz":106,"c":"d"},{"day":72.47,"hz":108,"c":"d"},{"day":72.51,"hz":99,"c":"d"},{"day":72.56,"hz":98,"c":"d"},{"day":72.63,"hz":148,"c":"d"},{"day":72.67,"hz":148,"c":"d"},{"day":72.73,"hz":171,"c":"d"},{"day":72.77,"hz":148,"c":"d"},{"day":72.82,"hz":152,"c":"d"},{"day":72.86,"hz":140,"c":"d"},{"day":72.9,"hz":155,"c":"d"},{"day":72.94,"hz":110,"c":"d"},{"day":72.99,"hz":99,"c":"d"},{"day":73.03,"hz":102,"c":"d"},{"day":73.07,"hz":114,"c":"d"},{"day":73.07,"hz":152,"c":"d"},{"day":73.11,"hz":148,"c":"d"},{"day":73.15,"hz":140,"c":"d"},{"day":73.18,"hz":106,"c":"d"},
{"day":73.2,"hz":150,"c":"d"},{"day":73.24,"hz":144,"c":"d"},{"day":73.26,"hz":196,"c":"d"},{"day":73.3,"hz":166,"c":"d"},{"day":73.35,"hz":150,"c":"d"},{"day":73.38,"hz":140,"c":"d"},{"day":73.42,"hz":119,"c":"d"},{"day":73.46,"hz":124,"c":"d"},{"day":73.51,"hz":158,"c":"d"},{"day":73.55,"hz":185,"c":"d"},{"day":73.6,"hz":141,"c":"d"},{"day":73.64,"hz":141,"c":"d"},{"day":73.69,"hz":135,"c":"d"},{"day":73.74,"hz":146,"c":"d"},{"day":73.78,"hz":146,"c":"d"},{"day":73.83,"hz":140,"c":"d"},{"day":73.87,"hz":152,"c":"d"},{"day":73.92,"hz":152,"c":"d"},{"day":73.95,"hz":138,"c":"d"},{"day":74.04,"hz":152,"c":"d"},{"day":74.09,"hz":152,"c":"d"},{"day":74.14,"hz":152,"c":"d"},{"day":74.18,"hz":181,"c":"d"},{"day":74.23,"hz":181,"c":"d"},{"day":74.31,"hz":185,"c":"d"},{"day":74.32,"hz":146,"c":"d"},{"day":74.39,"hz":131,"c":"d"},{"day":74.5,"hz":152,"c":"d"},{"day":74.64,"hz":141,"c":"d"},{"day":74.66,"hz":158,"c":"d"},{"day":74.72,"hz":166,"c":"d"},{"day":74.77,"hz":163,"c":"d"},{"day":74.81,"hz":152,"c":"d"},{"day":74.85,"hz":144,"c":"d"},{"day":74.9,"hz":156,"c":"d"},{"day":74.94,"hz":140,"c":"d"},{"day":74.99,"hz":138,"c":"d"},{"day":75.06,"hz":158,"c":"d"},{"day":75.15,"hz":185,"c":"d"},{"day":75.18,"hz":152,"c":"d"},{"day":75.23,"hz":146,"c":"d"},{"day":75.34,"hz":177,"c":"d"},{"day":75.43,"hz":156,"c":"d"},
{"day":73.12,"hz":99,"c":"d"},{"day":73.17,"hz":106,"c":"d"},{"day":73.21,"hz":108,"c":"d"},{"day":73.26,"hz":110,"c":"d"},{"day":73.34,"hz":99,"c":"d"},{"day":73.4,"hz":104,"c":"d"},{"day":73.5,"hz":102,"c":"d"},{"day":74.06,"hz":108,"c":"d"},{"day":74.11,"hz":102,"c":"d"},{"day":74.15,"hz":104,"c":"d"},{"day":74.23,"hz":116,"c":"d"},{"day":74.28,"hz":108,"c":"d"},{"day":74.32,"hz":99,"c":"d"},{"day":74.46,"hz":108,"c":"d"},{"day":74.51,"hz":108,"c":"d"},{"day":74.55,"hz":108,"c":"d"},{"day":74.6,"hz":106,"c":"d"},{"day":75.11,"hz":102,"c":"d"},{"day":75.29,"hz":102,"c":"d"},{"day":75.34,"hz":102,"c":"d"},{"day":75.38,"hz":102,"c":"d"},{"day":75.42,"hz":124,"c":"d"},{"day":75.46,"hz":119,"c":"d"},{"day":75.5,"hz":113,"c":"d"},
{"day":71.0,"hz":56,"c":"d"},{"day":71.61,"hz":64,"c":"d"},{"day":71.64,"hz":60,"c":"d"},{"day":71.68,"hz":52,"c":"g"},{"day":71.79,"hz":68,"c":"d"},{"day":71.84,"hz":73,"c":"d"},{"day":71.93,"hz":56,"c":"d"},{"day":72.03,"hz":52,"c":"d"},{"day":72.64,"hz":63,"c":"d"},{"day":72.67,"hz":79,"c":"d"},{"day":72.72,"hz":64,"c":"d"},{"day":72.77,"hz":60,"c":"d"},{"day":72.81,"hz":63,"c":"d"},{"day":72.86,"hz":66,"c":"d"},{"day":73.6,"hz":60,"c":"d"},{"day":73.64,"hz":60,"c":"d"},{"day":73.69,"hz":60,"c":"d"},{"day":73.85,"hz":64,"c":"d"},{"day":73.95,"hz":60,"c":"d"},{"day":73.99,"hz":60,"c":"d"},{"day":74.04,"hz":60,"c":"d"},{"day":74.54,"hz":60,"c":"d"},{"day":74.58,"hz":60,"c":"d"},{"day":74.63,"hz":63,"c":"d"},{"day":74.67,"hz":64,"c":"d"},{"day":74.72,"hz":64,"c":"d"},{"day":74.77,"hz":63,"c":"d"},{"day":74.81,"hz":63,"c":"d"},{"day":74.9,"hz":74,"c":"d"},
{"day":73.18,"hz":648,"c":"d"},{"day":73.23,"hz":648,"c":"d"},{"day":73.27,"hz":645,"c":"d"},{"day":73.38,"hz":587,"c":"d"},{"day":73.34,"hz":549,"c":"d"},{"day":73.54,"hz":634,"c":"d"},{"day":73.67,"hz":643,"c":"d"},{"day":73.71,"hz":651,"c":"d"},{"day":73.76,"hz":651,"c":"d"},{"day":73.81,"hz":631,"c":"d"},{"day":73.85,"hz":648,"c":"d"},{"day":73.94,"hz":649,"c":"d"},{"day":73.98,"hz":639,"c":"d"},{"day":74.11,"hz":639,"c":"d"},{"day":74.38,"hz":637,"c":"d"},{"day":74.43,"hz":606,"c":"g"},{"day":74.47,"hz":645,"c":"g"},{"day":74.55,"hz":643,"c":"d"},{"day":74.59,"hz":558,"c":"d"},{"day":74.67,"hz":639,"c":"d"},{"day":74.81,"hz":587,"c":"d"},{"day":74.85,"hz":668,"c":"d"},{"day":74.9,"hz":620,"c":"d"},{"day":75.03,"hz":634,"c":"d"},{"day":75.12,"hz":645,"c":"g"},{"day":75.18,"hz":643,"c":"d"},{"day":75.21,"hz":641,"c":"g"},{"day":75.29,"hz":637,"c":"d"},{"day":75.34,"hz":639,"c":"d"},{"day":75.37,"hz":639,"c":"d"},{"day":75.5,"hz":641,"c":"d"},{"day":75.11,"hz":576,"c":"g"},{"day":75.15,"hz":547,"c":"d"},{"day":75.27,"hz":566,"c":"d"},{"day":74.43,"hz":787,"c":"d"}
    ]},
    "mark": {"type": "circle", "size": 29, "opacity": 1, "clip": true},
    "encoding": {
      "x": {"field": "day", "type": "quantitative", "scale": {"domain": [70.955, 75.5]}, "axis": {"values": [71, 71.5, 72, 72.5, 73, 73.5, 74, 74.5, 75, 75.5], "format": "~g", "title": "Time (Julian Day)", "titleX": 211, "labelFontSize": 18, "titleFontSize": 19, "tickSize": 8, "labelPadding": 10, "titlePadding": 10}},
      "y": {"field": "hz", "type": "quantitative", "scale": {"domain": [49, 800], "nice": false, "zero": false}, "axis": {"values": [49, 100, 200, 300, 400, 500, 600, 700, 800], "labelExpr": "datum.value < 60 ? '0' : datum.label", "title": "Frequency (Hz)", "labelFontSize": 18, "titleFontSize": 19, "tickSize": 8, "labelPadding": 9, "titlePadding": 3}},
      "fill": {"field": "c", "type": "nominal", "scale": {"domain": ["d", "g"], "range": ["#1f3b43", "#7b898e"]}, "legend": null}
    }
   }
  ]
 }
]
}
